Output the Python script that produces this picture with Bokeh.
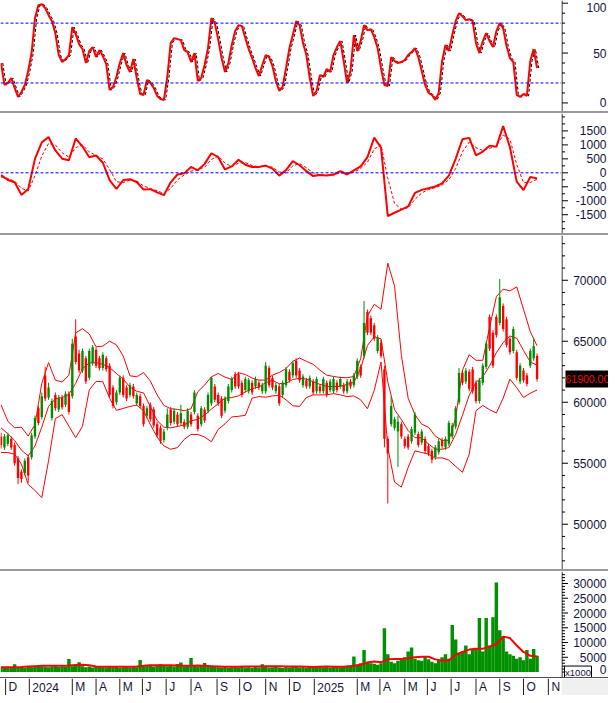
from bokeh.plotting import figure
from bokeh.models import Range1d, Span, ColumnDataSource, Spacer
from bokeh.layouts import column, row
from bokeh.embed import file_html
from bokeh.resources import INLINE
from bokeh.core.properties import value
from bokeh.transform import dodge

# ---------------- data ----------------
# trading-day index of each sampled candle (every 3rd session) and of the smoother series (every 6th)
day3 = list(range(0, 477, 3))
day6 = list(range(0, 475, 6))

month_start = [4, 25, 63, 84, 105, 125, 146, 168, 191, 211, 234, 255, 277, 315, 335, 357, 377, 398, 420, 441, 462, 484]
month_label = ["D", "2024", "M", "A", "M", "J", "J", "A", "S", "O", "N", "D", "2025", "M", "A", "M", "J", "J", "A", "S", "O", "N"]

opens = [57200, 56300, 56600, 57000, 56500, 55400, 54300, 54200, 55500, 55500,
         57200, 59500, 58800, 62200, 60400, 58700, 60600, 59400, 60400, 59800,
         60700, 60500, 65400, 64000, 62600, 63600, 62000, 63200, 64300, 63600,
         62800, 63600, 63000, 61200, 60000, 60800, 62000, 61200, 60600, 61300,
         59900, 60500, 59700, 58900, 59800, 59400, 58200, 57900, 56900, 57900,
         59400, 58400, 59000, 58300, 58400, 58000, 59000, 59200, 58900, 58200,
         59400, 59300, 59900, 61300, 60600, 60300, 59300, 60100, 61000, 62300,
         62300, 61600, 61000, 60900, 61600, 61300, 61600, 60900, 60900, 62800,
         62000, 60900, 61300, 60600, 61400, 62500, 62200, 63400, 62600, 61400,
         61800, 61300, 61700, 60900, 61300, 60900, 61600, 61000, 60900, 61600,
         61300, 61400, 60900, 61700, 61400, 62100, 62900, 63800, 67400, 66900,
         66300, 64200, 64900, 62700, 57000, 58200, 57900, 57600, 58200, 57000,
         57200, 56800, 57500, 57400, 56700, 57000, 56400, 56000, 55500, 55900,
         56900, 56300, 56600, 57200, 58000, 60000, 62400, 61700, 62500, 62700,
         61600, 60100, 61600, 62900, 67000, 65700, 67000, 66500, 67900, 66800,
         65200, 64200, 64100, 61700, 62600, 62200, 63000, 63600, 63800]
closes = [56500, 57200, 57300, 56300, 55000, 53800, 53700, 55200, 54000, 57300,
          58700, 58300, 60500, 60300, 61200, 60100, 59500, 60400, 59600, 60700,
          59200, 64800, 63300, 62600, 64200, 61700, 64200, 64500, 63000, 62800,
          63900, 62700, 60600, 59700, 60800, 62000, 60600, 60300, 61400, 60500,
          60600, 59700, 58200, 59500, 58600, 58100, 57300, 56800, 57600, 59000,
          58300, 59300, 58200, 59100, 58000, 59300, 58200, 60800, 57800, 59500,
          58500, 60600, 62000, 60200, 59900, 58900, 60300, 61300, 61900, 61300,
          61300, 60600, 61900, 61800, 60800, 61900, 61200, 61400, 63000, 61400,
          61200, 61400, 59900, 61600, 62700, 61800, 63200, 62200, 61800, 62100,
          61300, 62000, 60800, 61900, 60900, 61900, 60600, 61700, 61900, 61000,
          61900, 60900, 61700, 61300, 62200, 63400, 62200, 66500, 65700, 65700,
          65200, 65300, 63800, 57000, 55800, 59700, 58600, 58400, 57200, 56400,
          56300, 57800, 59000, 56500, 57600, 56000, 55800, 55300, 56300, 56800,
          56400, 57000, 58300, 58100, 59500, 62400, 61600, 62600, 61100, 60900,
          60100, 61800, 63000, 64800, 64400, 63000, 65500, 68600, 66000, 64700,
          64100, 66000, 62000, 63000, 61800, 61500, 64200, 64600, 61900]
highs = [57500, 57400, 57500, 57200, 56700, 55600, 54500, 55400, 55700, 57500,
         58900, 59700, 60800, 62900, 61600, 60300, 60800, 60600, 60600, 60900,
         60900, 65200, 66800, 64300, 64400, 63800, 64400, 64700, 64500, 63800,
         64100, 63800, 63200, 61400, 61000, 62200, 62200, 61400, 61600, 61500,
         60800, 60700, 59900, 59700, 60000, 59600, 58400, 58100, 57800, 59500,
         59600, 59500, 59200, 59800, 58600, 59500, 59200, 61000, 59100, 59700,
         59600, 60800, 62100, 61500, 60800, 60500, 60500, 61500, 62100, 62500,
         62500, 61800, 62100, 62000, 61800, 62100, 61800, 61600, 63300, 63000,
         62200, 61600, 61500, 61800, 62900, 62700, 63400, 63600, 62800, 62300,
         62000, 62200, 61900, 62100, 61500, 62100, 61800, 61900, 62100, 61800,
         62100, 61600, 61900, 61900, 62400, 63600, 63100, 68300, 67600, 67100,
         66500, 65500, 65100, 63000, 57200, 60500, 58800, 58900, 58400, 57200,
         57400, 58000, 59200, 57600, 57800, 57200, 56600, 56200, 56500, 57000,
         57100, 57200, 58500, 58300, 59700, 62800, 62600, 62800, 62700, 62900,
         61800, 62000, 63200, 65000, 67200, 65900, 67200, 70100, 68100, 67000,
         65400, 66200, 64300, 63200, 62800, 62400, 64400, 65300, 64000]
lows = [56200, 56100, 56400, 56100, 54800, 53300, 53400, 54000, 53400, 55300,
        57000, 58100, 58600, 60100, 60200, 58500, 59300, 59200, 59400, 59600,
        59000, 60300, 63100, 62400, 62400, 61500, 61800, 63000, 62800, 62600,
        62600, 62500, 60400, 59500, 59800, 60600, 60400, 60100, 60400, 60300,
        59700, 59500, 58000, 58700, 58400, 57900, 57100, 56600, 56700, 57700,
        58100, 58200, 58000, 58100, 57800, 57800, 58000, 59000, 57600, 58000,
        58300, 59100, 59700, 60000, 59700, 58700, 59100, 59900, 60800, 61100,
        61100, 60400, 60800, 60700, 60600, 61100, 61000, 60700, 60700, 61200,
        61000, 60700, 59700, 60400, 61200, 61600, 62000, 62000, 61600, 61200,
        61100, 61100, 60600, 60700, 60700, 60700, 60400, 60800, 60700, 60800,
        61100, 60700, 60700, 61100, 61200, 61900, 62000, 63600, 65500, 65500,
        65000, 64000, 63600, 56300, 51700, 58000, 57700, 54700, 57000, 56200,
        56100, 56600, 57300, 56300, 56500, 55800, 55600, 55000, 55300, 55700,
        56200, 56100, 56400, 57000, 57800, 59800, 61400, 61500, 60900, 60700,
        59900, 59900, 61400, 62700, 64200, 62800, 65300, 66300, 65800, 64500,
        63900, 64000, 61800, 61500, 61600, 61300, 62800, 63400, 61700]

bb_upper = [59793, 58443, 57903, 57957, 57228, 58173, 61548, 63249, 61818, 61656,
            62223, 65679, 66030, 65598, 64545, 64599, 65004, 64707, 63789, 62169,
            62088, 62439, 61737, 60603, 59739, 59469, 59415, 59307, 59469, 60873,
            61413, 62088, 62358, 62061, 61872, 62412, 62277, 61980, 61818, 61818,
            62223, 62439, 62763, 63357, 63627, 63357, 63114, 62628, 62223, 62115,
            62034, 62007, 62115, 63573, 67083, 68028, 67623, 71403, 69513, 63843,
            60333, 58983, 58200, 57957, 57228, 56877, 56877, 58713, 62628, 63897,
            63438, 63438, 66138, 68649, 69270, 69135, 69459, 67623, 65787, 64626]
bb_middle = [57903, 57417, 56877, 56067, 55608, 56418, 57957, 59658, 60279, 60387,
             60657, 61548, 62763, 63222, 63249, 63114, 62844, 62358, 61899, 61251,
             60900, 60765, 59658, 58497, 57957, 57903, 58011, 58146, 58470, 58605,
             58956, 59442, 59874, 60333, 60387, 60522, 60846, 61116, 61251, 61602,
             61791, 61521, 61548, 61872, 61953, 61899, 61683, 61467, 61305, 61278,
             61305, 61467, 61629, 62763, 64653, 65382, 65193, 61683, 59388, 58578,
             57687, 57093, 57093, 56580, 56148, 56148, 56283, 57363, 58929, 60576,
             61629, 62088, 62979, 64059, 64896, 65436, 65247, 64248, 63303, 63033]
bb_lower = [55878, 55878, 55743, 54933, 53259, 52773, 52179, 55203, 58659, 58983,
            58038, 57093, 58038, 61008, 61710, 61683, 60333, 59334, 59496, 59658,
            59766, 59307, 58173, 57147, 56418, 56148, 56283, 56958, 57363, 57363,
            57147, 56769, 57768, 58227, 58794, 58848, 58929, 60333, 60468, 60414,
            60522, 60576, 60198, 59712, 59658, 60387, 60603, 60603, 60603, 60711,
            60603, 60468, 60522, 60198, 59469, 60978, 63303, 56283, 53448, 53043,
            54663, 56013, 55878, 55743, 55419, 55446, 55257, 54744, 54258, 55743,
            59307, 59739, 59388, 59118, 60333, 61899, 61197, 60387, 60738, 61008]

rsi = [40, 18, 20, 25, 15, 6, 11, 18, 32, 50,
       85, 98, 99, 95, 88, 82, 70, 48, 41, 44,
       48, 76, 69, 59, 54, 40, 52, 56, 46, 53,
       47, 39, 13, 16, 26, 40, 50, 38, 31, 44,
       25, 9, 8, 23, 20, 15, 7, 4, 3, 26,
       60, 65, 64, 63, 53, 51, 41, 50, 22, 25,
       38, 55, 85, 80, 64, 45, 31, 40, 58, 72,
       78, 77, 65, 54, 45, 35, 27, 38, 48, 46,
       37, 22, 12, 16, 35, 55, 68, 82, 78, 60,
       48, 25, 7, 12, 28, 26, 34, 31, 48, 56,
       62, 42, 20, 32, 68, 52, 62, 78, 73, 74,
       66, 55, 35, 18, 17, 46, 42, 40, 41, 43,
       48, 51, 55, 46, 32, 18, 10, 8, 3, 10,
       42, 58, 52, 68, 82, 90, 87, 83, 84, 82,
       60, 50, 62, 70, 62, 56, 72, 80, 75, 57,
       45, 41, 8, 6, 9, 7, 42, 54, 35]

macd = [-82, -258, -340, -790, -580, 500, 1090, 1280, 800, 504,
        450, 1230, 940, 560, 620, 360, -258, -580, -258, -230,
        -330, -600, -586, -700, -800, -340, -60, -20, 211, 90,
        320, 700, 560, 120, 230, 469, 290, 210, 210, 260,
        150, -100, 100, 420, 270, 60, -117, -82, -100, -60,
        59, -60, 90, 230, 563, 1260, 900, -1550, -1430, -1320,
        -1200, -720, -610, -550, -490, -380, -100, 500, 1200, 1250,
        621, 760, 973, 930, 1676, 914, -316, -620, -150, -200]
macd_signal = [-150, -200, -300, -550, -650, -100, 600, 1050, 1000, 720,
               560, 900, 1000, 750, 620, 500, 120, -320, -350, -260,
               -290, -470, -560, -640, -740, -560, -250, -80, 60, 120,
               200, 480, 600, 350, 220, 350, 370, 260, 220, 240,
               200, 30, 0, 250, 330, 180, 0, -80, -90, -80,
               0, -20, 20, 150, 380, 850, 1000, -200, -1100, -1300,
               -1250, -950, -720, -600, -530, -440, -250, 150, 750, 1100,
               900, 800, 880, 950, 1350, 1200, 300, -350, -350, -230]

volume = [1500, 1700, 1400, 1600, 2600, 1500, 1700, 1400, 1800, 1600,
          1900, 1700, 2000, 1800, 1600, 1900, 2200, 1700, 2000, 1900,
          4400, 2000, 2300, 3300, 2000, 1600, 1900, 1500, 1700, 2000,
          1600, 1500, 1800, 1600, 1700, 1400, 1600, 1900, 1500, 1700,
          1600, 4100, 2000, 2200, 2500, 1900, 2300, 2600, 2100, 2000,
          2400, 1900, 2700, 3200, 2000, 2300, 4800, 2100, 1900, 2200,
          3100, 1800, 1700, 2000, 1600, 1500, 1700, 1400, 1600, 1800,
          1500, 1700, 1500, 1600, 1400, 1700, 1500, 2600, 1700, 1500,
          1600, 1800, 1500, 1400, 1600, 1500, 1700, 1800, 1500, 1600,
          1400, 1700, 1500, 1600, 1800, 1500, 1600, 1400, 1700, 1900,
          1600, 1700, 2200, 1800, 5300, 2500, 3000, 7500, 3500, 3000,
          2800, 2500, 3000, 14800, 6000, 3500, 3000, 3800, 4200, 5000,
          7000, 8300, 4500, 4000, 3800, 5200, 4300, 3500, 3000, 4200,
          5000, 6000, 4500, 15900, 11000, 6500, 7000, 9000, 6000, 7500,
          8000, 18300, 7000, 18300, 9000, 18600, 30300, 14200, 12000, 7000,
          6000, 5500, 4500, 5000, 4000, 7500, 4500, 7800, 5500]
volume_ma = [1600, 1600, 1600, 1700, 1900, 2000, 2100, 2100, 2100, 2100,
             2200, 2400, 2500, 2300, 1900, 1800, 1800, 1800, 1800, 1800,
             1900, 2100, 2300, 2300, 2300, 2300, 2200, 2100, 2100, 2200,
             2100, 2000, 1900, 1800, 1800, 1800, 1900, 1900, 1900, 2000,
             2000, 2000, 1900, 1900, 1900, 1800, 1700, 1800, 1900, 1800,
             1800, 1900, 2100, 2500, 3200, 3600, 3300, 4300, 4400, 4400,
             4700, 5000, 5200, 5200, 4300, 3800, 4000, 5800, 6800, 7600,
             7900, 7900, 8600, 9500, 12000, 11500, 9000, 6800, 5500, 5300]

rsi_ticks = [0, 50, 100]
rsi_minor = [10, 20, 30, 40, 60, 70, 80, 90]
macd_ticks = [-1500, -1000, -500, 0, 500, 1000, 1500]
macd_minor = [-2000, -1750, -1250, -750, -250, 250, 750, 1250, 1750, 2000]
price_ticks = [50000, 55000, 60000, 65000, 70000]
price_minor = [t for t in range(47000, 74000, 1000) if t % 5000]
vol_ticks = [0, 5000, 10000, 15000, 20000, 25000, 30000]
vol_minor = [t for t in range(1000, 34000, 1000) if t % 5000]

# ---------------- styling ----------------
W = 608
RB = 47            # width of the right-hand scale strip
MW = W - RB        # width of the plotting area
FONT = "Liberation Sans"
LBL = "#14143c"
GREEN = "#008c00"
RED = "#ff0000"
BLUE = "#0000ff"

xr = Range1d(-0.5, 495.6)


def base_fig(w, h, xrange, yrange):
    p = figure(width=w, height=h, x_range=xrange, y_range=yrange,
               x_axis_location=None, y_axis_location=None, tools="",
               toolbar_location=None, output_backend="svg",
               min_border_left=0, min_border_right=0, min_border_top=0, min_border_bottom=0)
    p.grid.visible = False
    p.outline_line_color = None
    p.background_fill_color = "white"
    p.border_fill_color = "white"
    return p


def scale_strip(h, yrange, majors, minors):
    s = base_fig(RB, h, Range1d(0, RB), yrange)
    s.add_layout(Span(location=0.5, dimension="height", line_color="black", line_width=1))
    s.segment(x0=0.5, y0="t", x1=6.5, y1="t", source=ColumnDataSource(dict(t=majors)),
              line_color="black", line_width=1)
    s.segment(x0=0.5, y0="t", x1=3.5, y1="t", source=ColumnDataSource(dict(t=minors)),
              line_color="black", line_width=1)
    span = yrange.end - yrange.start
    groups = {0: [], 4: [], -3: []}
    for t in majors:
        if t > yrange.end - span * 0.04:
            groups[4].append(t)
        elif t < yrange.start + span * 0.07:
            groups[-3].append(t)
        else:
            groups[0].append(t)
    for off, ts in groups.items():
        if not ts:
            continue
        s.text(x=RB - 2, y="t", text="s", source=ColumnDataSource(dict(t=ts, s=[str(t) for t in ts])),
               text_align="right", text_baseline="middle", text_font=value(FONT),
               text_font_size="12px", text_color=LBL, y_offset=off)
    return s


# ---- oscillator ----
yr1 = Range1d(-8.6, 102.7)
p1 = base_fig(MW, 111, xr, yr1)
src_rsi = ColumnDataSource(dict(d=day3, v=rsi))
p1.add_layout(Span(location=80, dimension="width", line_color=BLUE, line_dash="3 2", line_width=1))
p1.add_layout(Span(location=20, dimension="width", line_color=BLUE, line_dash="3 2", line_width=1))
p1.line(x=dodge("d", 1.5), y="v", source=src_rsi, line_color="black", line_dash="3 2", line_width=1)
p1.line(x="d", y="v", source=src_rsi, line_color=RED, line_width=2)
s1 = scale_strip(111, yr1, rsi_ticks, rsi_minor)

# ---- MACD ----
yr2 = Range1d(-2172, 2123)
p2 = base_fig(MW, 120, xr, yr2)
src_macd = ColumnDataSource(dict(d=day6, m=macd, s=macd_signal))
p2.add_layout(Span(location=0, dimension="width", line_color=BLUE, line_dash="3 2", line_width=1))
p2.line(x="d", y="s", source=src_macd, line_color=RED, line_dash="3 2", line_width=1)
p2.line(x="d", y="m", source=src_macd, line_color=RED, line_width=2)
s2 = scale_strip(120, yr2, macd_ticks, macd_minor)

# ---- price ----
yr3 = Range1d(46290, 73670)
p3 = base_fig(MW, 334, xr, yr3)
colors = [GREEN if c >= o else RED for o, c in zip(opens, closes)]
src_c = ColumnDataSource(dict(d=day3, h=highs, l=lows,
                              top=[max(o, c) for o, c in zip(opens, closes)],
                              bot=[min(o, c) for o, c in zip(opens, closes)],
                              col=colors))
src_bb = ColumnDataSource(dict(d=day6, u=bb_upper, m=bb_middle, lo=bb_lower))
p3.line(x="d", y="u", source=src_bb, line_color=RED, line_width=1)
p3.line(x="d", y="m", source=src_bb, line_color=RED, line_width=1)
p3.line(x="d", y="lo", source=src_bb, line_color=RED, line_width=1)
p3.segment(x0="d", y0="l", x1="d", y1="h", source=src_c, line_color="col", line_width=1)
p3.vbar(x="d", width=2.1, top="top", bottom="bot", source=src_c, fill_color="col", line_color=None)
s3 = scale_strip(334, yr3, price_ticks, price_minor)
last = ColumnDataSource(dict(y=[closes[-1]], s=[f"{closes[-1]:.2f}"]))
s3.rect(x=RB / 2 + 2.5, y="y", width=RB - 3, height=17, width_units="screen", height_units="screen",
        source=last, fill_color="black", line_color=None)
s3.text(x=4, y="y", text="s", source=last, text_baseline="middle", text_font=value(FONT),
        text_font_size="10.5px", text_color=RED)

# ---- volume ----
yr4 = Range1d(-1846, 34060)
p4 = base_fig(MW, 106, xr, yr4)
src_v = ColumnDataSource(dict(d=day3, v=volume))
src_vm = ColumnDataSource(dict(d=day6, v=volume_ma))
p4.vbar(x="d", width=3.05, top="v", bottom=0, source=src_v, fill_color="#009000", line_color=None)
p4.line(x="d", y="v", source=src_vm, line_color=RED, line_width=2)
s4 = scale_strip(106, yr4, vol_ticks, vol_minor)
unit = ColumnDataSource(dict(y=[0], s=["x1000"]))
s4.rect(x=16.5, y="y", width=27, height=12, width_units="screen", height_units="screen",
        source=unit, fill_color="white", line_color="black", line_width=1)
s4.text(x=16.5, y="y", text="s", source=unit, text_align="center", text_baseline="middle",
        text_font=value(FONT), text_font_size="9.5px", text_color=LBL)

# ---- month strip ----
p5 = base_fig(W, 17, xr, Range1d(0, 1))
p5.min_border_right = RB
p5.border_fill_color = "#f0f0f0"
src_m = ColumnDataSource(dict(x=month_start, t=month_label))
p5.segment(x0="x", y0=0, x1="x", y1=1, source=src_m, line_color="#202020", line_width=1)
p5.text(x="x", y=0.5, text="t", source=src_m, x_offset=3, text_baseline="middle",
        text_font=value(FONT), text_font_size="12px", text_color=LBL)


def sep(h, c):
    return Spacer(width=W, height=h, styles={"background-color": c})


layout = column(row(p1, s1, spacing=0), sep(2, "#999999"),
                row(p2, s2, spacing=0), sep(2, "#999999"),
                row(p3, s3, spacing=0), sep(2, "#999999"),
                row(p4, s4, spacing=0), sep(1, "#505050"),
                p5, spacing=0)

open("out.html", "w").write(file_html(layout, INLINE))
